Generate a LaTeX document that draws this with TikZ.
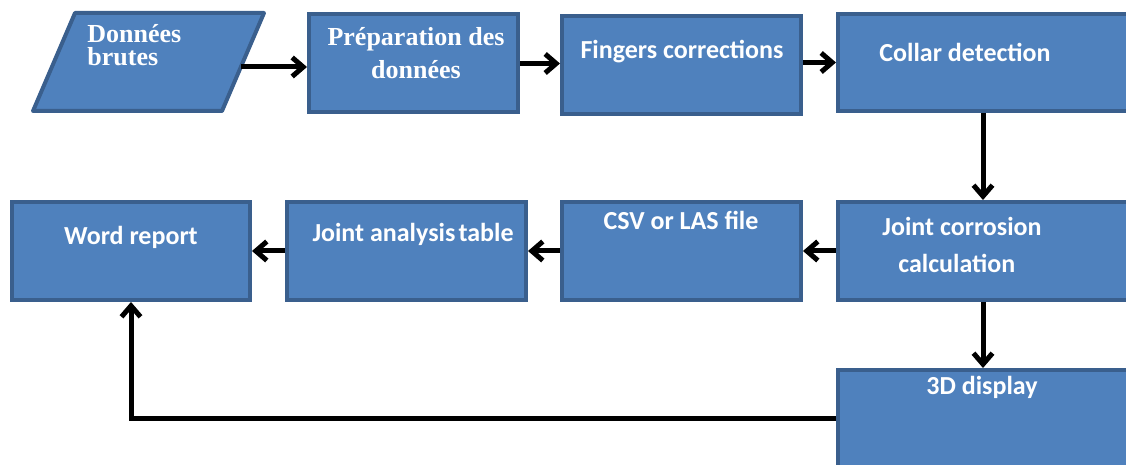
\documentclass[tikz,border=0pt]{standalone}
\usepackage{fontspec}
\setmainfont{Liberation Serif}
\newfontfamily\calibri{Carlito}
\usetikzlibrary{arrows.meta}
\definecolor{boxfill}{HTML}{4F81BD}
\definecolor{boxline}{HTML}{3A5F8D}
\begin{document}
\begin{tikzpicture}[
        x=0.5pt, y=-0.5pt,
        box/.style={draw=boxline, fill=boxfill, line width=2pt, inner sep=0pt, minimum height=49pt},
        serif/.style={text=white, font=\fontsize{13}{11.5}\selectfont\bfseries, inner sep=0pt},
        sans/.style={text=white, font=\fontsize{13}{18.5}\selectfont\calibri\bfseries, inner sep=0pt, align=center},
        flow/.style={line width=2.5pt, line join=miter, -{Straight Barb[length=5.5pt,width=9.5pt]}},
      ]
        \useasboundingbox (0,0) rectangle (1126,465);
        % raw data, drawn as a parallelogram
        \draw[draw=boxline, fill=boxfill, line width=2pt, line join=round]
          (75,13) -- (264,13) -- (222,111) -- (33,111) -- cycle;
        \coordinate (raw-e) at (241,67);
        \node[serif, anchor=north west, align=left] (raw-t) at (87,24) {Données\\brutes};
        % top row
        \node[box, minimum width=104.5pt] (prep) at (413.5,63.5) {};
        \node[box, minimum width=119.5pt] (fing) at (681.5,65.5) {};
        \node[box, minimum width=160pt, minimum height=48.5pt] (coll) at (998,62.5) {};
        % bottom row
        \node[box, minimum width=119pt] (word) at (131,251) {};
        \node[box, minimum width=119.5pt] (jat) at (406.5,251) {};
        \node[box, minimum width=119.5pt] (csv) at (681.5,251) {};
        \node[box, minimum width=160pt] (jcc) at (998,251) {};
        \node[box, minimum width=160pt, minimum height=58pt] (disp) at (998,428) {};
        % labels
        \node[serif, align=center, font=\fontsize{13}{16.5}\selectfont\bfseries] (prep-t) at (416,53) {Préparation des\\données};
        \node[sans] (fing-t) at (682,52) {Fingers corrections};
        \node[sans] (coll-t) at (965,52) {Collar detection};
        \node[sans] (word-t) at (131,237) {Word report};
        \node[sans] (jat-t) at (413,234) {Joint analysis\hspace{0.12em}table};
        \node[sans] (csv-t) at (681,220) {CSV or LAS file};
        \node[sans] (jcc-t) at (962,245) {Joint corrosion\\\hspace{-0.4em}calculation};
        \node[sans] (disp-t) at (982,387) {3D display};
        % connectors
        \draw[flow] (raw-e) -- (raw-e -| prep.west);
        \draw[flow] (prep.east) -- (prep.east -| fing.west);
        \draw[flow] (fing.east |- coll) -- (coll.west);
        \draw[flow] ([xshift=-7.5pt]coll.south) -- ([xshift=-7.5pt]jcc.north);
        \draw[flow] (jcc.west) -- (csv.east);
        \draw[flow] (csv.west) -- (jat.east);
        \draw[flow] (jat.west) -- (word.east);
        \draw[flow] ([xshift=-7.5pt]jcc.south) -- ([xshift=-7.5pt]disp.north);
        \draw[flow] ([yshift=5pt]disp.west) -| (word.south);
      \end{tikzpicture}
\end{document}
